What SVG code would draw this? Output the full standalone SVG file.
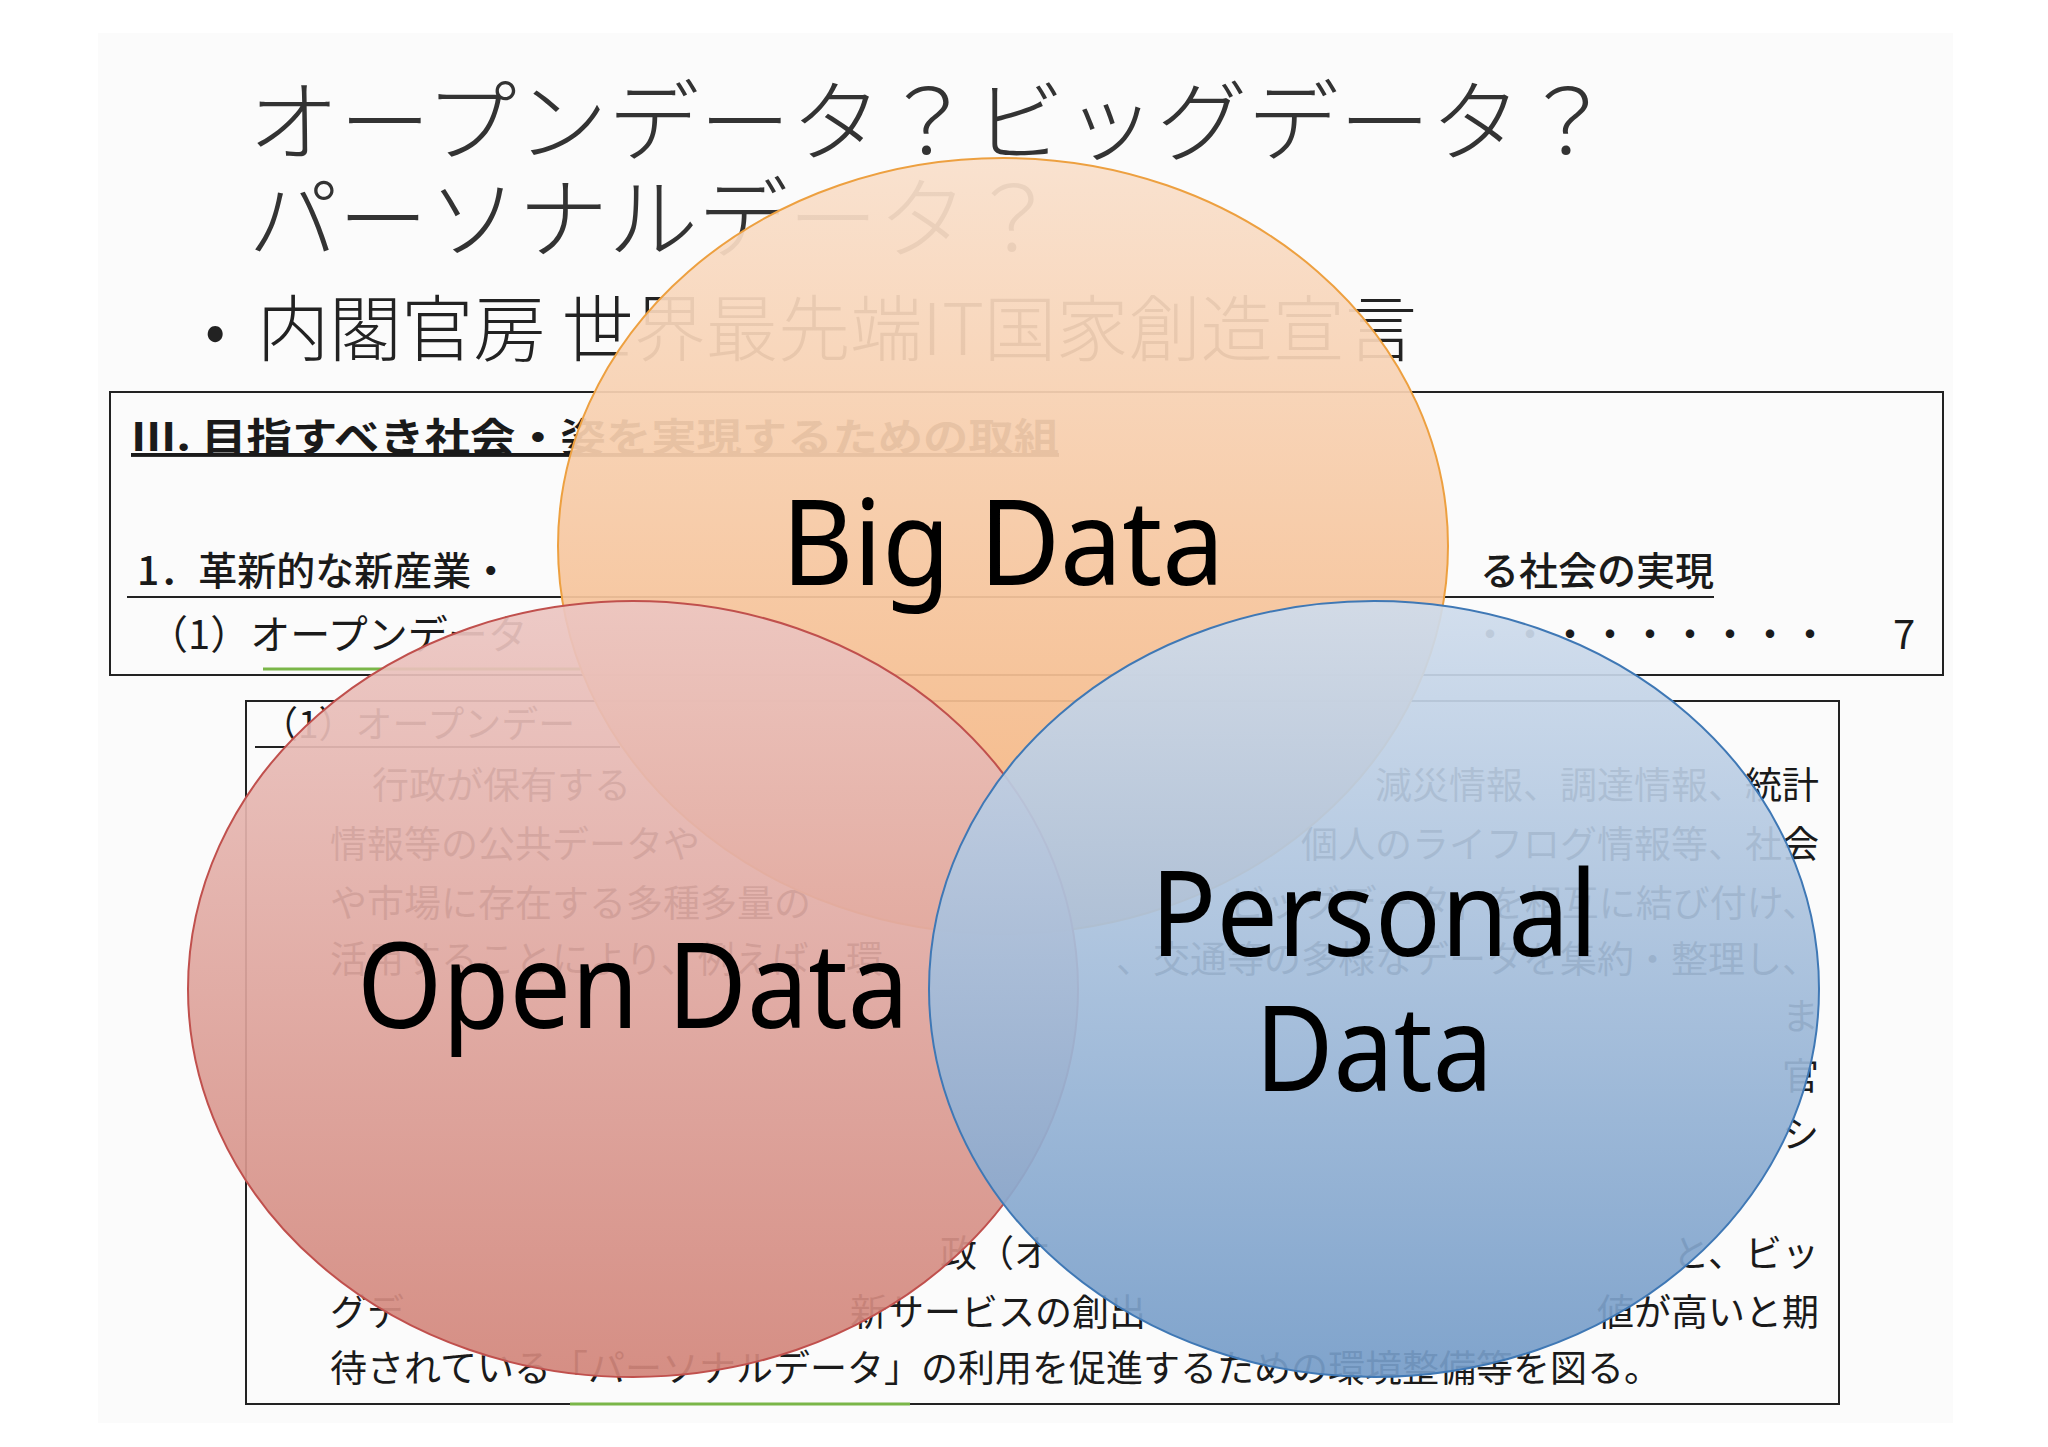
<svg xmlns="http://www.w3.org/2000/svg" width="2048" height="1447" viewBox="0 0 2048 1447">
<defs>
<linearGradient id="gB" x1="0" y1="0" x2="0" y2="1"><stop offset="0" stop-color="#f9e0cc"/><stop offset="1" stop-color="#f4b078"/></linearGradient>
<linearGradient id="gO" x1="0" y1="0" x2="0" y2="1"><stop offset="0" stop-color="#ecc6c2"/><stop offset="1" stop-color="#d2857a"/></linearGradient>
<linearGradient id="gP" x1="0" y1="0" x2="0" y2="1"><stop offset="0" stop-color="#cfdcec"/><stop offset="1" stop-color="#759cc8"/></linearGradient>
<style>
.j{font-family:"Noto Sans CJK JP","Noto Sans",sans-serif;fill:#1a1a1a}
.t{font-size:37px}
.h{font-size:39px;font-weight:bold}
.lbl{font-family:"Noto Sans","DejaVu Sans",sans-serif;font-size:118px;fill:#000;text-anchor:middle}
.box{fill:none;stroke:#222;stroke-width:2}
</style>
</defs>
<rect width="2048" height="1447" fill="#ffffff"/>
<rect x="98" y="33" width="1855" height="1390" fill="#fbfbfb"/>
<g id="title" class="j">
<text x="248" y="154" font-size="89" font-weight="300" style="fill:#333" textLength="1365" lengthAdjust="spacingAndGlyphs">オープンデータ？ビッグデータ？</text>
<text x="248" y="251" font-size="89" font-weight="300" style="fill:#333" textLength="810" lengthAdjust="spacingAndGlyphs">パーソナルデータ？</text>
<text x="205" y="352" font-size="60" style="fill:#222">•</text>
<text x="257" y="355" font-size="72" font-weight="300" style="fill:#222" textLength="1160" lengthAdjust="spacingAndGlyphs">内閣官房 世界最先端IT国家創造宣言</text>
</g>
<g id="box1">
<rect class="box" x="110" y="392" width="1833" height="283" fill="#fff"/>
<text class="j h" x="131" y="451" text-decoration="underline" textLength="928" lengthAdjust="spacingAndGlyphs">Ⅲ. 目指すべき社会・姿を実現するための取組</text>
<text class="j h" x="137" y="585" style="font-weight:500">1．革新的な新産業・</text>
<text class="j h" x="1714" y="585" text-anchor="end" style="font-weight:500">る社会の実現</text>
<line x1="127" y1="597" x2="1714" y2="597" stroke="#222" stroke-width="2"/>
<text class="j t" x="148" y="649" style="font-size:40px">（1）オープンデータ</text>
<line x1="263" y1="669" x2="580" y2="669" stroke="#7ab648" stroke-width="3"/>
<text class="j t" x="1470" y="649" style="font-size:40px">・・・・・・・・・</text>
<text class="j t" x="1893" y="649" style="font-size:40px">7</text>
</g>
<g id="box2">
<rect class="box" x="246" y="701" width="1593" height="703" fill="#fff"/>
<text class="j t" x="261" y="738">（1）オープンデー</text>
<line x1="255" y1="747" x2="620" y2="747" stroke="#222" stroke-width="2"/>
<text class="j t" x="372" y="799">行政が保有する</text>
<text class="j t" x="1819" y="799" text-anchor="end">減災情報、調達情報、統計</text>
<text class="j t" x="330" y="858">情報等の公共データや</text>
<text class="j t" x="1819" y="858" text-anchor="end">個人のライフログ情報等、社会</text>
<text class="j t" x="330" y="917">や市場に存在する多種多量の</text>
<text class="j t" x="1819" y="917" text-anchor="end">ビッグデータ」を相互に結び付け、</text>
<text class="j t" x="330" y="973">活用することにより、例えば、環</text>
<text class="j t" x="1819" y="973" text-anchor="end">、交通等の多様なデータを集約・整理し、</text>
<text class="j t" x="1819" y="1030" text-anchor="end">ま</text>
<text class="j t" x="1819" y="1090" text-anchor="end">官</text>
<text class="j t" x="1819" y="1148" text-anchor="end">シ</text>
<text class="j t" x="940" y="1267">政（オ</text>
<text class="j t" x="1819" y="1267" text-anchor="end">と、ビッ</text>
<text class="j t" x="330" y="1326">グデ</text>
<text class="j t" x="850" y="1326">新サービスの創出</text>
<text class="j t" x="1819" y="1326" text-anchor="end">値が高いと期</text>
<text class="j t" x="330" y="1382">待されている「パーソナルデータ」の利用を促進するための環境整備等を図る。</text>
<line x1="570" y1="1404" x2="910" y2="1404" stroke="#7ab648" stroke-width="3"/>
</g>
<g id="big-data">
<ellipse cx="1003" cy="546" rx="445" ry="388" fill="url(#gB)" fill-opacity="0.93" stroke="#eda040" stroke-width="2"/>
</g>
<g id="open-data">
<ellipse cx="633" cy="989" rx="445" ry="388" fill="url(#gO)" fill-opacity="0.92" stroke="#c0504d" stroke-width="2"/>
</g>
<g id="personal-data">
<ellipse cx="1374" cy="989" rx="445" ry="388" fill="url(#gP)" fill-opacity="0.92" stroke="#3f78b5" stroke-width="2"/>
</g>
<g id="labels">
<text class="lbl" x="1003" y="585" textLength="443" lengthAdjust="spacingAndGlyphs">Big Data</text>
<text class="lbl" x="633" y="1028" textLength="552" lengthAdjust="spacingAndGlyphs">Open Data</text>
<text class="lbl" x="1374" y="956" textLength="447" lengthAdjust="spacingAndGlyphs">Personal</text>
<text class="lbl" x="1374" y="1091" textLength="238" lengthAdjust="spacingAndGlyphs">Data</text>
</g>
</svg>
